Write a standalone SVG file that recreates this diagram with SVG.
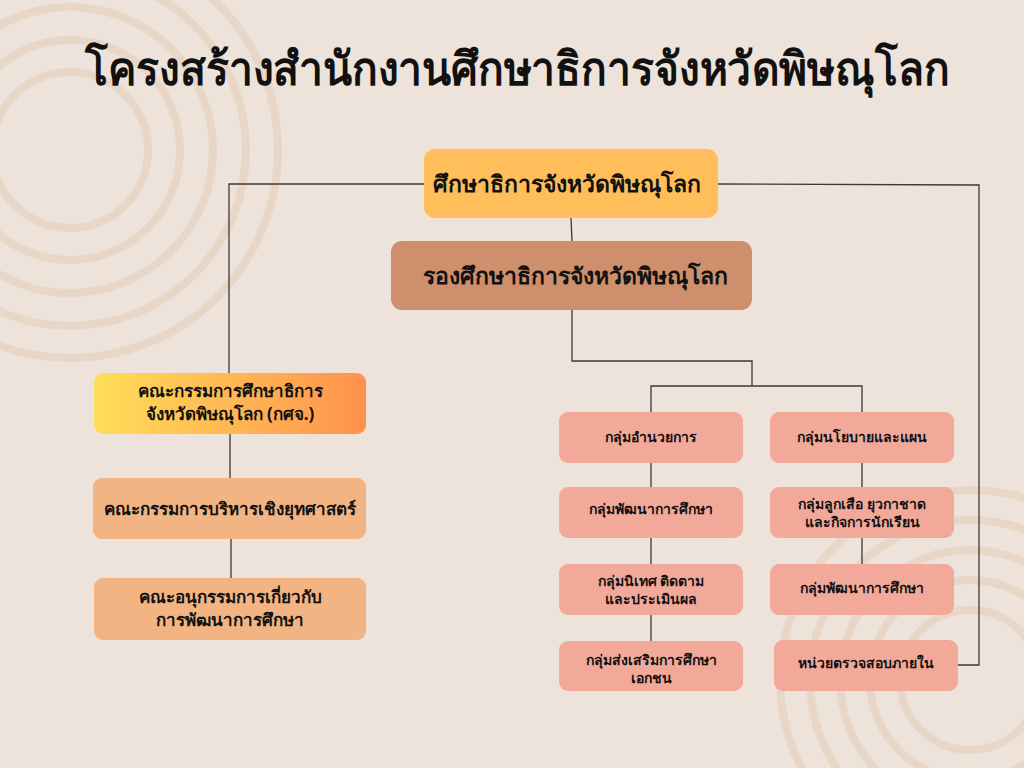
<svg xmlns="http://www.w3.org/2000/svg" width="1024" height="768" viewBox="0 0 1024 768">
<defs>
<style>
text{font-family:"Noto Sans","Liberation Sans",sans-serif;font-weight:bold;fill:#111;text-anchor:middle}
.ring{fill:none;stroke:#e8d6c7;stroke-width:8}
.line{fill:none;stroke:#3a3a3a;stroke-width:1.3}
.grp{fill:#f2a99a}
.cmt{fill:#f2b482}
.t24{font-size:23px}
.t16{font-size:17px}
.t14{font-size:14px}
</style>
<linearGradient id="gy" x1="0" y1="0" x2="1" y2="0">
<stop offset="0" stop-color="#ffde59"/>
<stop offset="1" stop-color="#ff914d"/>
</linearGradient>
</defs>
<rect width="1024" height="768" fill="#ede3da"/>
<g id="bg-rings">
<circle class="ring" cx="70" cy="150" r="78"/>
<circle class="ring" cx="70" cy="150" r="110"/>
<circle class="ring" cx="70" cy="150" r="143"/>
<circle class="ring" cx="70" cy="150" r="176"/>
<circle class="ring" cx="70" cy="150" r="208"/>
<circle class="ring" cx="970" cy="680" r="70"/>
<circle class="ring" cx="970" cy="680" r="100"/>
<circle class="ring" cx="970" cy="680" r="130"/>
<circle class="ring" cx="970" cy="680" r="160"/>
<circle class="ring" cx="970" cy="680" r="190"/>
</g>
<text x="517" y="85" style="font-size:46px" textLength="865" lengthAdjust="spacingAndGlyphs">โครงสร้างสำนักงานศึกษาธิการจังหวัดพิษณุโลก</text>
<g id="connectors">
<polyline class="line" points="424,184 229,184 229,373"/>
<polyline class="line" points="718,184 979,185 979,665 958,665"/>
<line class="line" x1="571" y1="218" x2="572" y2="241"/>
<polyline class="line" points="572,310 572,361 752,361 752,386"/>
<polyline class="line" points="651,412 651,386 862,386 862,412"/>
<line class="line" x1="651" y1="463" x2="651" y2="487"/>
<line class="line" x1="651" y1="538" x2="651" y2="564"/>
<line class="line" x1="651" y1="615" x2="651" y2="641"/>
<line class="line" x1="862" y1="463" x2="862" y2="487"/>
<line class="line" x1="862" y1="538" x2="862" y2="564"/>
<line class="line" x1="230" y1="434" x2="230" y2="478"/>
<line class="line" x1="231" y1="539" x2="231" y2="578"/>
</g>
<g id="n-director">
<rect x="424" y="149" width="294" height="69" rx="11" fill="#ffbe5a"/>
<text class="t24" x="567" y="192">ศึกษาธิการจังหวัดพิษณุโลก</text>
</g>
<g id="n-deputy">
<rect x="391" y="241" width="361" height="69" rx="11" fill="#cd8f6c"/>
<text class="t24" x="575" y="284">รองศึกษาธิการจังหวัดพิษณุโลก</text>
</g>
<g id="n-gsj">
<rect x="94" y="373" width="272" height="61" rx="9" fill="url(#gy)"/>
<text class="t16" x="230" y="397">คณะกรรมการศึกษาธิการ</text>
<text class="t16" x="230" y="420">จังหวัดพิษณุโลก (กศจ.)</text>
</g>
<g id="n-strategy">
<rect x="93" y="478" width="273" height="61" rx="9" class="cmt"/>
<text class="t16" x="230" y="515">คณะกรรมการบริหารเชิงยุทศาสตร์</text>
</g>
<g id="n-subcmt">
<rect x="94" y="578" width="272" height="62" rx="9" class="cmt"/>
<text class="t16" x="230" y="603">คณะอนุกรรมการเกี่ยวกับ</text>
<text class="t16" x="230" y="626">การพัฒนาการศึกษา</text>
</g>
<g id="n-admin">
<rect x="559" y="412" width="184" height="51" rx="9" class="grp"/>
<text class="t14" x="651" y="442">กลุ่มอำนวยการ</text>
</g>
<g id="n-dev1">
<rect x="559" y="487" width="184" height="51" rx="9" class="grp"/>
<text class="t14" x="651" y="514">กลุ่มพัฒนาการศึกษา</text>
</g>
<g id="n-supervision">
<rect x="559" y="564" width="184" height="51" rx="9" class="grp"/>
<text class="t14" x="651" y="586">กลุ่มนิเทศ ติดตาม</text>
<text class="t14" x="651" y="604">และประเมินผล</text>
</g>
<g id="n-private">
<rect x="559" y="641" width="184" height="50" rx="9" class="grp"/>
<text class="t14" x="651" y="665">กลุ่มส่งเสริมการศึกษา</text>
<text class="t14" x="651" y="683">เอกชน</text>
</g>
<g id="n-policy">
<rect x="770" y="412" width="184" height="51" rx="9" class="grp"/>
<text class="t14" x="862" y="442">กลุ่มนโยบายและแผน</text>
</g>
<g id="n-scout">
<rect x="770" y="487" width="184" height="51" rx="9" class="grp"/>
<text class="t14" x="862" y="509">กลุ่มลูกเสือ ยุวกาชาด</text>
<text class="t14" x="862" y="527">และกิจการนักเรียน</text>
</g>
<g id="n-dev2">
<rect x="770" y="564" width="184" height="51" rx="9" class="grp"/>
<text class="t14" x="862" y="593">กลุ่มพัฒนาการศึกษา</text>
</g>
<g id="n-audit">
<rect x="774" y="640" width="184" height="51" rx="9" class="grp"/>
<text class="t14" x="866" y="668">หน่วยตรวจสอบภายใน</text>
</g>
</svg>
